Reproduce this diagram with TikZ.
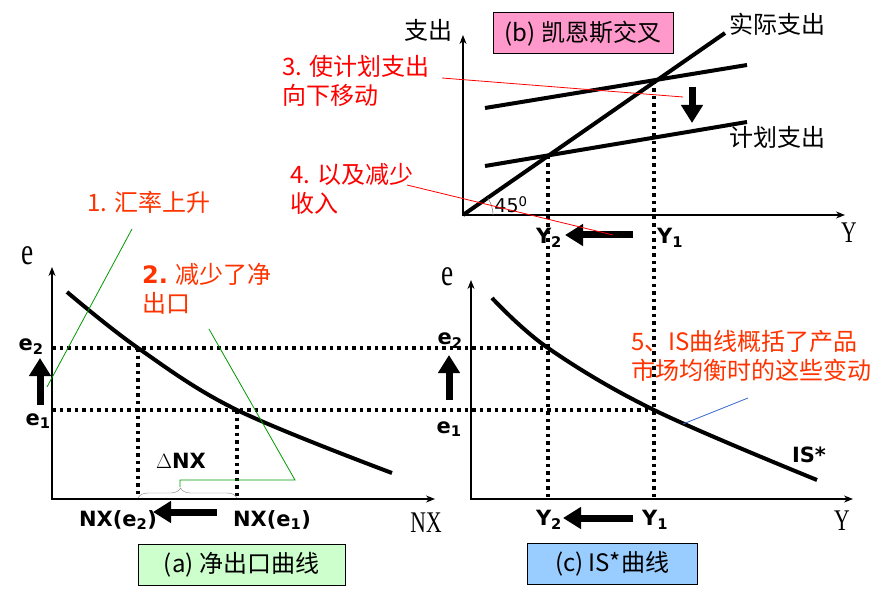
\documentclass[tikz,border=0pt]{standalone}
\usepackage{fontspec}
\setmainfont{Liberation Serif}
\newfontfamily\cjk{Noto Sans CJK SC}
\newfontfamily\vsans{DejaVu Sans}
\usetikzlibrary{arrows.meta,decorations.pathreplacing}
\tikzset{>={Stealth[length=9pt,width=7pt]}}
\definecolor{noteorange}{HTML}{FF3300}
\definecolor{notered}{HTML}{FF0000}
\definecolor{leadgreen}{HTML}{009900}
\definecolor{leadblue}{HTML}{3366CC}
\definecolor{capgreen}{HTML}{CCFFCC}
\definecolor{cappink}{HTML}{FF99CC}
\definecolor{capblue}{HTML}{99CCFF}
\newcommand{\slim}[1]{\scalebox{0.72}[1]{#1}}

\begin{document}
\begin{tikzpicture}[x=1pt,y=-1pt,
  axis/.style={line width=1.2pt},
  curve/.style={line width=4pt},
  guide/.style={line width=3.5pt,dash pattern=on 3.5pt off 4pt},
  shift arrow/.style={line width=7pt,-{Triangle[length=18pt,width=21pt]}},
  bold label/.style={font=\vsans\bfseries\fontsize{21}{24}\selectfont,inner sep=0pt},
  axis label/.style={font=\fontsize{30}{32}\selectfont,inner sep=0pt},
  e label/.style={font=\fontsize{38}{40}\selectfont,inner sep=0pt},
  cn label/.style={font=\cjk\fontsize{24}{28}\selectfont,inner sep=0pt},
  note/.style={font=\cjk\fontsize{24}{29}\selectfont,align=left,inner sep=0pt,anchor=north west},
  caption/.style={draw,line width=1pt,font=\cjk\fontsize{24}{26}\selectfont,inner sep=0pt,minimum height=41pt}
]
\useasboundingbox (0,0) rectangle (890,593);

% origins and crossings
\coordinate (aO) at (52,499);
\coordinate (bO) at (463,215);
\coordinate (cO) at (471,499);
\coordinate (bY1) at (654,81);
\coordinate (bY2) at (548,156);
\coordinate (aE2) at (138,348);
\coordinate (aE1) at (237,410);

% (a) net exports
\draw[axis,<->] (52,267) -- (aO) -- (435,499);
\node[e label] (aE) at (28,256) {\slim{e}};
\node[axis label] (aNX) at (426,523) {\slim{NX}};
\draw[curve] plot[smooth,tension=0.6] coordinates {(67,292) (aE2) (aE1) (392,473)};
\draw[guide] (aE2) -- (aE2 |- aO);
\draw[guide] (aE1) -- (aE1 |- aO);
\node[bold label] (aLe2) at (31,347) {e\textsubscript{2}};
\node[bold label] (aLe1) at (38,421) {e\textsubscript{1}};
\draw[shift arrow] (40,405) -- (40,358);
\node[bold label] (aNX2) at (118,520) {NX(e\textsubscript{2})};
\node[bold label] (aNX1) at (272,520) {NX(e\textsubscript{1})};
\draw[shift arrow] (217,512) -- (153,512);
\node[bold label] (dNX) at (181,461) {$\Delta$NX};
\draw[gray,decorate,decoration={brace,amplitude=10pt,aspect=0.43}] (138,498) -- (237,498);
\node[caption,fill=capgreen,minimum width=207pt] (capA) at (241.5,564.5) {(a) 净出口曲线};

% (b) keynesian cross
\draw[axis,<->] (463,35) -- (bO) -- (845,215);
\node[cn label] (bExp) at (428,30) {支出};
\node[axis label] (bY) at (849,233) {\slim{Y}};
\node[caption,fill=cappink,minimum width=180pt] (capB) at (583,33.5) {(b) 凯恩斯交叉};
\draw[curve] (bO) -- (725,33) coordinate (bTop);
\draw[curve] (485,108) -- (747,65);
\draw[curve] (485,166) -- (747,122);
\node[cn label,anchor=west] (bActual) at (729,24) {实际支出};
\node[cn label,anchor=west] (bPlanned) at (729,137) {计划支出};
\draw[shift arrow] (692,87) -- (692,123);
\draw[gray,line width=0.6pt] (bO) +(30,0) arc[start angle=0,end angle=-35,radius=30];
\node[font=\vsans\fontsize{19}{22}\selectfont,inner sep=0pt] (b45) at (511,205) {45\textsuperscript{0}};
\node[bold label] (bLY2) at (549,238) {Y\textsubscript{2}};
\node[bold label] (bLY1) at (670,238) {Y\textsubscript{1}};
\draw[shift arrow] (633,235) -- (565,235);

% (c) IS* curve
\draw[axis,<->] (471,280) -- (cO) -- (853,499);
\node[e label] (cE) at (448,277) {\slim{e}};
\node[axis label] (cY) at (842,521) {\slim{Y}};
\draw[curve] plot[smooth,tension=0.6] coordinates {(492,298) (548,348) (654,410) (817,480)};
\node[bold label] (cIS) at (809,455) {IS*};
\node[bold label] (cLe2) at (450,341) {e\textsubscript{2}};
\node[bold label] (cLe1) at (449,429) {e\textsubscript{1}};
\draw[shift arrow] (449,400) -- (449,355);
\node[bold label] (cLY2) at (549,520) {Y\textsubscript{2}};
\node[bold label] (cLY1) at (655,520) {Y\textsubscript{1}};
\draw[shift arrow] (633,518) -- (563,518);
\node[caption,fill=capblue,minimum width=170pt] (capC) at (612,564) {(c) IS*曲线};

% dotted guides across panels
\draw[guide] (52,348) -- (548,348);
\draw[guide] (52,410) -- (654,410);
\draw[guide] (bY2) -- (bY2 |- cO);
\draw[guide] (bY1) -- (bY1 |- cO);

% notes and leaders
\node[note,text=noteorange] (n1) at (87,191) {1. 汇率上升};
\node[note,text=noteorange] (n2) at (142,263) {{\vsans\bfseries 2.} 减少了净\\出口};
\node[note,text=notered] (n3) at (282,55) {3. 使计划支出\\向下移动};
\node[note,text=notered] (n4) at (290,163) {4. 以及减少\\收入};
\node[note,text=noteorange] (n5) at (631,330) {5、IS曲线概括了产品\\市场均衡时的这些变动};
\coordinate (l1a) at (132,229); \coordinate (l1b) at (47,387);
\coordinate (l2a) at (209,329); \coordinate (l2b) at (295,480);
\coordinate (l2c) at (180,480); \coordinate (l2d) at (180,487);
\coordinate (l3a) at (442,78); \coordinate (l3b) at (683,97);
\coordinate (l4a) at (407,185); \coordinate (l4b) at (613,235);
\coordinate (l5a) at (748,398); \coordinate (l5b) at (683,424);
\draw[leadgreen,line width=0.8pt] (l1a) -- (l1b);
\draw[leadgreen,line width=0.8pt] (l2a) -- (l2b) -- (l2c) -- (l2d);
\draw[notered,line width=0.8pt] (l3a) -- (l3b);
\draw[notered,line width=0.8pt] (l4a) -- (l4b);
\draw[leadblue,line width=0.8pt] (l5a) -- (l5b);

\end{tikzpicture}
\end{document}
